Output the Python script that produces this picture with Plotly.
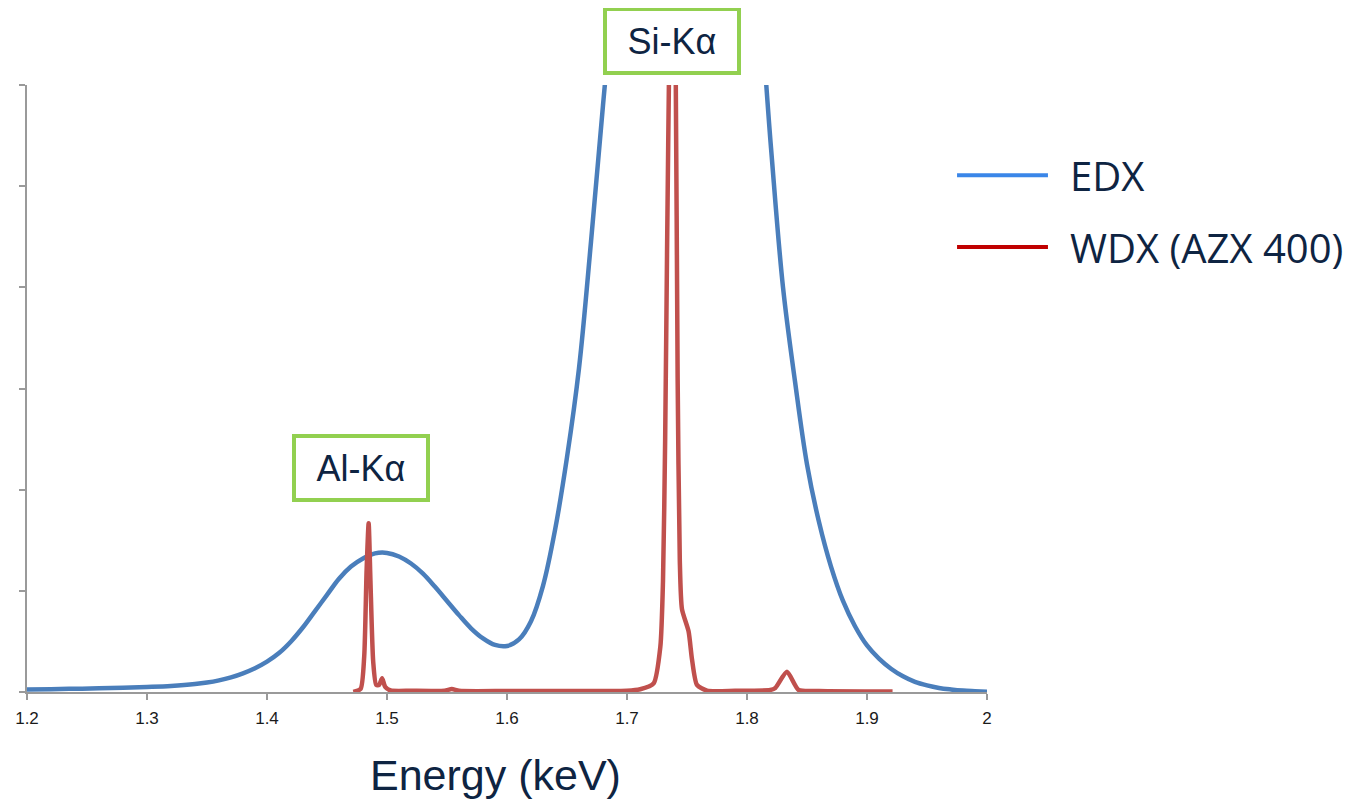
import plotly.graph_objects as go

# ---------------- data ----------------
edx_energy = [1.20, 1.22, 1.24, 1.26, 1.28, 1.30, 1.32, 1.34, 1.35, 1.36, 1.37, 1.38,
              1.39, 1.40, 1.41, 1.42, 1.43, 1.44, 1.45, 1.46, 1.47, 1.48, 1.49, 1.50,
              1.51, 1.52, 1.53, 1.54, 1.55, 1.56, 1.57, 1.58, 1.59, 1.60, 1.61, 1.62,
              1.63, 1.64, 1.65, 1.66, 1.67, 1.68, 1.69, 1.70, 1.71, 1.72, 1.73, 1.74,
              1.75, 1.76, 1.77, 1.78, 1.79, 1.80, 1.81, 1.82, 1.83, 1.84, 1.85, 1.86,
              1.87, 1.88, 1.89, 1.90, 1.91, 1.92, 1.93, 1.94, 1.95, 1.96, 1.97, 1.98,
              1.99, 2.00]
edx_counts = [0.025, 0.028, 0.032, 0.036, 0.042, 0.05, 0.06, 0.078, 0.093, 0.115, 0.145, 0.185,
              0.235, 0.30, 0.385, 0.50, 0.64, 0.80, 0.96, 1.12, 1.24, 1.32, 1.37, 1.375,
              1.34, 1.27, 1.17, 1.04, 0.90, 0.76, 0.63, 0.53, 0.465, 0.455, 0.52, 0.70,
              1.05, 1.60, 2.32, 3.20, 4.45, 5.80, 7.1, 8.3, 9.4, 10.3, 10.9, 11.2,
              11.2, 10.9, 10.4, 9.6, 8.7, 7.9, 6.9, 5.38, 4.0, 3.07, 2.25, 1.68,
              1.24, 0.90, 0.65, 0.46, 0.33, 0.23, 0.155, 0.10, 0.065, 0.04, 0.025, 0.014,
              0.008, 0.003]

wdx_energy = [1.4719, 1.478, 1.481, 1.483, 1.4847, 1.4862, 1.4885, 1.491, 1.4935,
              1.4959, 1.4985, 1.503, 1.52, 1.548, 1.554, 1.560, 1.60, 1.65, 1.70,
              1.711, 1.7222, 1.7278, 1.7300, 1.7318, 1.7335, 1.7352, 1.7378,
              1.7405, 1.7422, 1.7440, 1.7458, 1.7513, 1.7542, 1.7583, 1.7667,
              1.79, 1.8194, 1.8236, 1.8333, 1.843, 1.86, 1.9213]
wdx_counts = [0.0, 0.03, 0.35, 1.2, 1.667, 1.1, 0.3, 0.07, 0.07,
              0.135, 0.05, 0.015, 0.012, 0.012, 0.03, 0.012, 0.01, 0.01, 0.012,
              0.027, 0.086, 0.45, 1.1, 2.5, 4.5, 6.3, 8.5,
              6.3, 3.1, 1.3, 0.82, 0.6, 0.32, 0.07, 0.013,
              0.012, 0.02, 0.04, 0.20, 0.02, 0.01, 0.005]

x_ticks = [1.2, 1.3, 1.4, 1.5, 1.6, 1.7, 1.8, 1.9, 2.0]
x_tick_labels = ["1.2", "1.3", "1.4", "1.5", "1.6", "1.7", "1.8", "1.9", "2"]
y_ticks = [0, 1, 2, 3, 4, 5, 6]

series_names = ["EDX", "WDX (AZX 400)"]
x_title = "Energy (keV)"
peak_labels = ["Si-Kα", "Al-Kα"]
peak_label_energy = [1.7378, 1.4786]
al_label_height = 2.214

# ---------------- styles ----------------
NAVY = "#0e2442"
AXIS_GRAY = "#9a9a9a"
EDX_COLOR = "#4a7ebb"
WDX_COLOR = "#c0504d"
LEG_EDX = "#3a86e8"
LEG_WDX = "#c00000"
GREEN = "#92d050"
ARIAL = "Liberation Sans, Arial, sans-serif"

fig = go.Figure()
fig.add_trace(go.Scatter(x=edx_energy, y=edx_counts, mode="lines", name=series_names[0],
                         line=dict(color=EDX_COLOR, width=4.5, shape="spline", smoothing=1.0),
                         showlegend=False))
fig.add_trace(go.Scatter(x=wdx_energy, y=wdx_counts, mode="lines", name=series_names[1],
                         line=dict(color=WDX_COLOR, width=4.5, shape="spline", smoothing=0.6),
                         showlegend=False))

# page body has an 8px margin: size the figure so the plot area lands at 27..987 x 85..692
fig.update_layout(
    width=1346, height=792,
    margin=dict(l=19, r=367, t=77, b=108, pad=0, autoexpand=False),
    paper_bgcolor="white", plot_bgcolor="white",
    showlegend=False,
    font=dict(family=ARIAL, color=NAVY),
)
fig.update_xaxes(range=[1.2, 2.0], tickvals=x_ticks, ticktext=x_tick_labels,
                 showline=True, linecolor=AXIS_GRAY, linewidth=1.5,
                 ticks="outside", ticklen=6, tickcolor=AXIS_GRAY, tickwidth=1.5,
                 ticklabelstandoff=4,
                 showgrid=False, zeroline=False,
                 tickfont=dict(size=17, color="#1a1a1a", family=ARIAL))
fig.update_yaxes(range=[0, 6], tickvals=y_ticks, showticklabels=False,
                 showline=True, linecolor=AXIS_GRAY, linewidth=1.5,
                 ticks="outside", ticklen=6, tickcolor=AXIS_GRAY, tickwidth=1.5,
                 showgrid=False, zeroline=False)

# x-axis title (placed as in the reference, slightly left of centre)
fig.add_annotation(xref="paper", yref="paper", x=0.4885, y=-0.1367, text=x_title,
                   showarrow=False, xanchor="center", yanchor="middle",
                   font=dict(size=43, color=NAVY, family=ARIAL))

# peak label boxes
fig.add_annotation(x=peak_label_energy[0], xref="x", y=1.0717, yref="paper",
                   text=peak_labels[0], showarrow=False,
                   font=dict(size=36, color=NAVY, family=ARIAL),
                   bordercolor=GREEN, borderwidth=4, borderpad=2,
                   width=126, height=56, bgcolor="white", xanchor="center", yanchor="middle")
fig.add_annotation(x=peak_label_energy[1], xref="x", y=al_label_height, yref="y",
                   text=peak_labels[1], showarrow=False,
                   font=dict(size=36, color=NAVY, family=ARIAL),
                   bordercolor=GREEN, borderwidth=4, borderpad=2,
                   width=126, height=56, bgcolor="white", xanchor="center", yanchor="middle")

# manual legend (long line samples as in the reference)
legend_rows = [(series_names[0], LEG_EDX, 0.8512), (series_names[1], LEG_WDX, 0.7331)]
for name, col, yy in legend_rows:
    fig.add_shape(type="line", xref="paper", yref="paper", x0=0.9688, x1=1.0635, y0=yy, y1=yy,
                  line=dict(color=col, width=4))
    fig.add_annotation(xref="paper", yref="paper", x=1.0844, y=yy, text=name, showarrow=False,
                       xanchor="left", yanchor="middle",
                       font=dict(size=40, color=NAVY, family="Open Sans, Noto Sans, sans-serif"))

fig.write_html("out.html")
